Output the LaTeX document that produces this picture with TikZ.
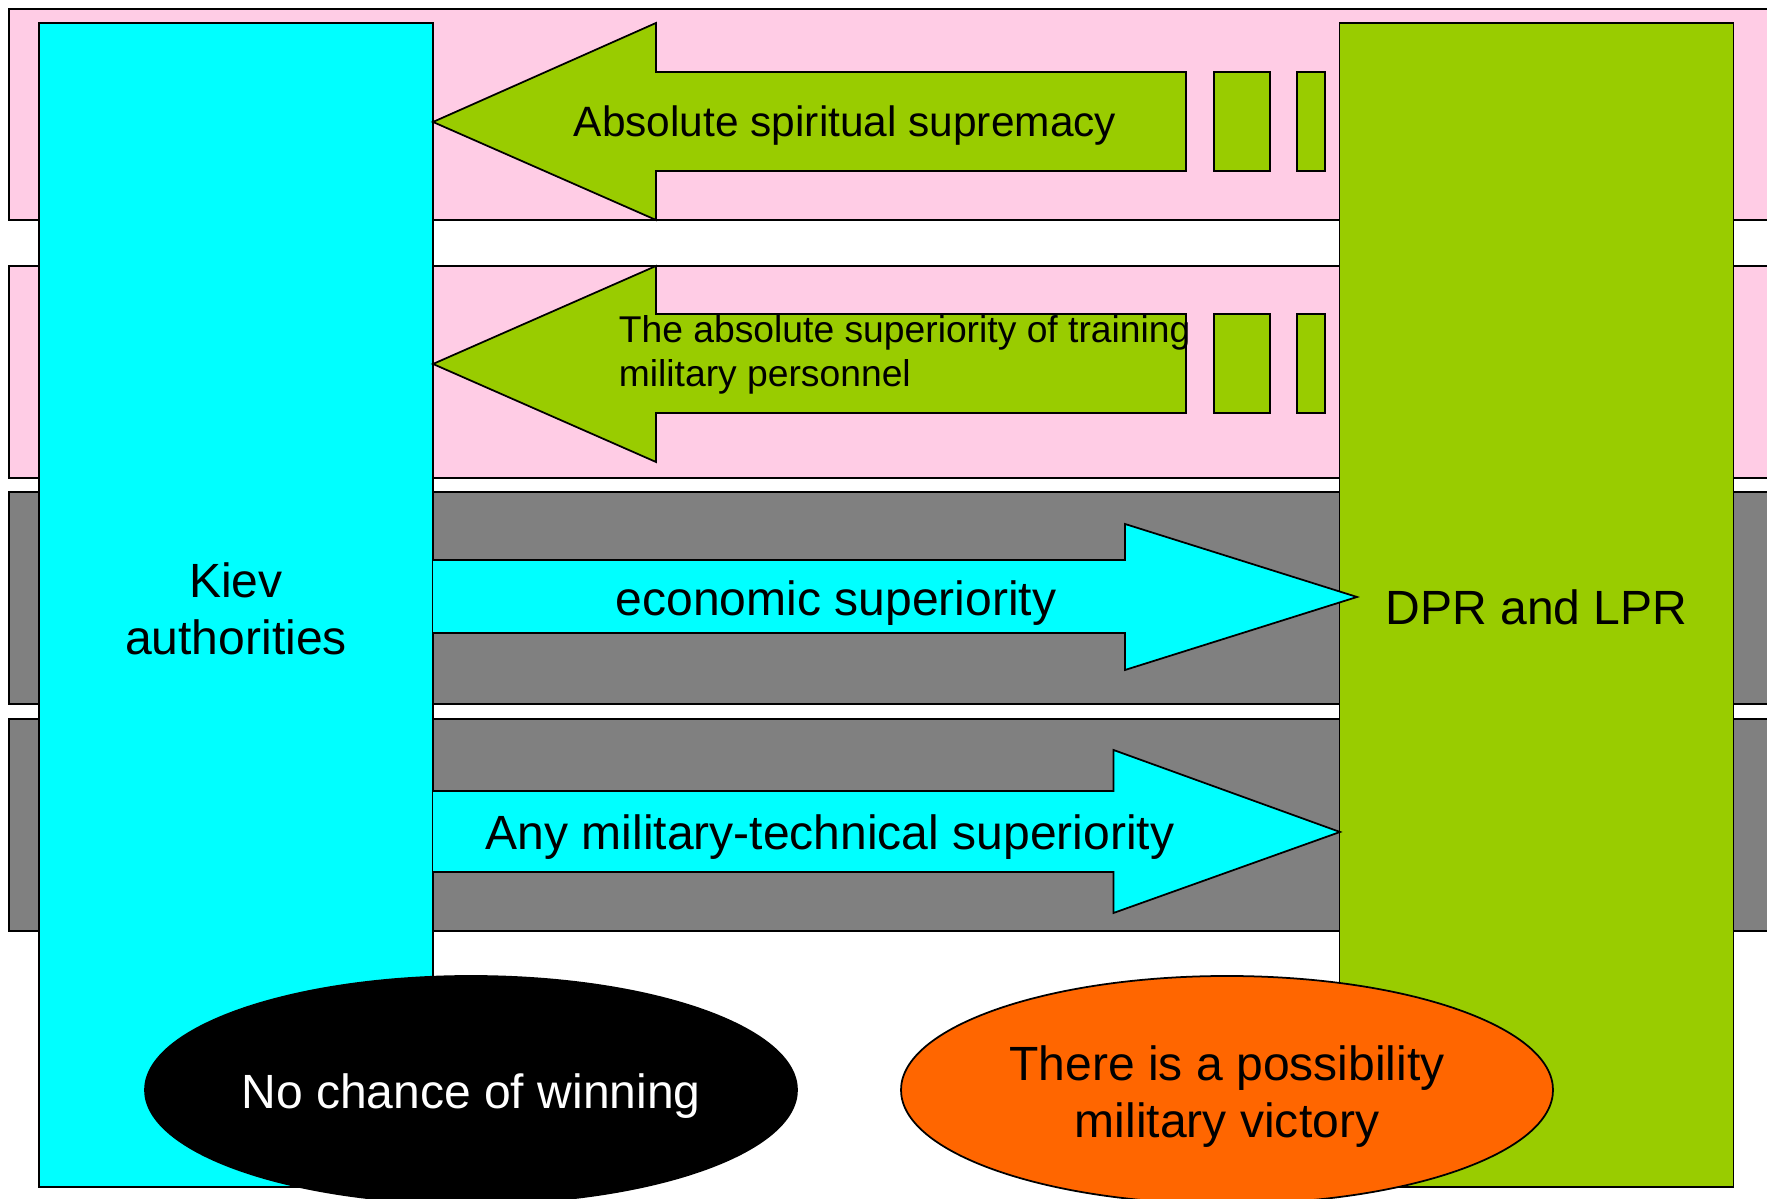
\documentclass[tikz,border=0pt]{standalone}
\usepackage{fontspec}
\setmainfont{Liberation Sans}
\usetikzlibrary{shapes.geometric}
\definecolor{bandpink}{RGB}{255,204,229}
\definecolor{bandgray}{RGB}{128,128,128}
\definecolor{leafgreen}{RGB}{153,204,0}
\definecolor{aqua}{RGB}{0,255,255}
\definecolor{victory}{RGB}{255,102,0}
\begin{document}
\begin{tikzpicture}[line width=0.5pt,
  side/.style={draw=black, rectangle, minimum width=3.94cm, minimum height=11.64cm, inner sep=0pt},
  chance/.style={draw=black, ellipse, minimum width=6.52cm, minimum height=2.28cm, inner sep=0pt},
  big/.style={align=center, font=\fontsize{13.67}{16.2}\selectfont}]
\clip (0,0) rectangle (17.67,11.99);
% bands
\draw[fill=bandpink] (0.09,11.90) rectangle (18,9.79);
\draw[fill=bandpink] (0.09,9.33) rectangle (18,7.21);
\draw[fill=bandgray] (0.09,7.07) rectangle (18,4.95);
\draw[fill=bandgray] (0.09,4.80) rectangle (18,2.68);
% sides
\node[side, fill=aqua] (kiev) at (2.36,5.94) {};
\node[side, fill=leafgreen] (dpr) at (15.365,5.94) {};
\node[big] (kievlabel) at ([yshift=-0.035cm]kiev.center) {Kiev\\authorities};
\node[big] (dprlabel) at ([yshift=-0.02cm]dpr.center) {DPR and LPR};
% arrows to the left
\draw[fill=leafgreen] (4.33,10.77) -- (6.56,11.76) -- (6.56,11.27) -- (11.86,11.27) -- (11.86,10.28) -- (6.56,10.28) -- (6.56,9.79) -- cycle;
\draw[fill=leafgreen] (12.14,11.27) rectangle (12.70,10.28);
\draw[fill=leafgreen] (12.97,11.27) rectangle (13.25,10.28);
\draw[fill=leafgreen] (4.33,8.35) -- (6.56,9.33) -- (6.56,8.85) -- (11.86,8.85) -- (11.86,7.86) -- (6.56,7.86) -- (6.56,7.37) -- cycle;
\draw[fill=leafgreen] (12.14,8.85) rectangle (12.70,7.86);
\draw[fill=leafgreen] (12.97,8.85) rectangle (13.25,7.86);
% arrows to the right
\draw[fill=aqua] (4.33,6.39) -- (11.25,6.39) -- (11.25,6.75) -- (13.57,6.02) -- (11.25,5.29) -- (11.25,5.66) -- (4.33,5.66);
\draw[fill=aqua] (4.33,4.08) -- (11.135,4.08) -- (11.135,4.49) -- (13.40,3.67) -- (11.135,2.86) -- (11.135,3.27) -- (4.33,3.27);
% labels
\node[font=\fontsize{12.07}{14}\selectfont] (spirit) at (8.45,10.735) {Absolute spiritual supremacy};
\node[font=\fontsize{10.6}{12.5}\selectfont, align=left, anchor=west, inner sep=0pt] (training) at (6.18,8.445) {The absolute superiority of training\\military personnel};
\node[big] (economy) at (8.36,5.955) {economic superiority};
\node[big] (tech) at (8.30,3.615) {Any military-technical superiority};
% outcomes
\node[chance, fill=black] (lose) at (4.71,1.09) {};
\node[chance, fill=victory] (win) at (12.27,1.09) {};
\node[big, text=white] (loselabel) at ([yshift=-0.06cm]lose.center) {No chance of winning};
\node[big] (winlabel) at ([yshift=-0.07cm]win.center) {There is a possibility\\military victory};
\end{tikzpicture}
\end{document}
